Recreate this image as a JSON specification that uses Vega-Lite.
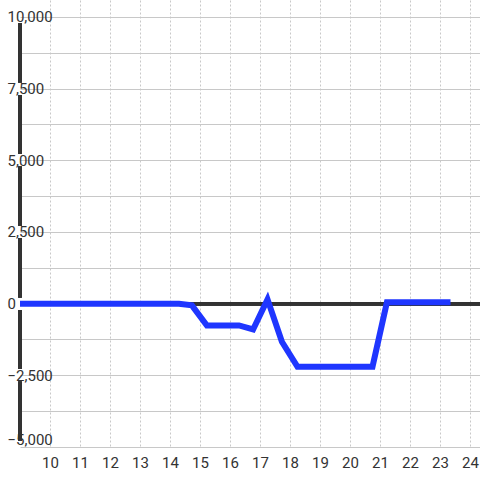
{
  "$schema": "https://vega.github.io/schema/vega-lite/v6.json",
  "width": 460,
  "height": 447,
  "autosize": "none",
  "padding": {"left": 20, "top": 0, "right": 0, "bottom": 33},
  "background": "white",
  "config": {"view": {"stroke": null}, "font": "Roboto", "axis": {"labelOverlap": false, "labelSeparation": 0}},
  "data": {"values": [
    {"hour": 9, "value": 0},
    {"hour": 14.3, "value": 0},
    {"hour": 14.73, "value": -60},
    {"hour": 15.23, "value": -760},
    {"hour": 16.3, "value": -760},
    {"hour": 16.77, "value": -900},
    {"hour": 17.25, "value": 150},
    {"hour": 17.73, "value": -1330},
    {"hour": 18.25, "value": -2200},
    {"hour": 20.75, "value": -2200},
    {"hour": 21.23, "value": 50},
    {"hour": 23.35, "value": 50}
  ]},
  "encoding": {
    "x": {"field": "hour", "type": "quantitative",
      "scale": {"domain": [9, 24.333], "nice": false, "zero": false},
      "axis": {"title": null, "values": [10,11,12,13,14,15,16,17,18,19,20,21,22,23,24],
        "grid": true, "gridDash": [2, 2], "gridColor": "#c8c8c8", "gridWidth": 1,
        "domain": false, "ticks": false, "labelPadding": 8, "labelFontSize": 15,
        "labelOverlap": false, "labelBound": false, "labelFlush": false,
        "labelColor": "#333333", "labelFont": "Roboto", "labelBaseline": "top", "zindex": 0}},
    "y": {"field": "value", "type": "quantitative",
      "scale": {"domain": [-5000, 10593], "nice": false, "zero": false},
      "axis": {"title": null,
        "values": [-5000,-3750,-2500,-1250,0,1250,2500,3750,5000,6250,7500,8750,10000],
        "labelExpr": "datum.value % 2500 === 0 ? datum.label : ''",
        "grid": true, "gridColor": "#c8c8c8", "gridWidth": 1,
        "domain": false, "ticks": false, "labelAlign": "left", "labelPadding": 13,
        "labelOverlap": false, "labelBound": false, "labelFlush": false,
        "labelBaseline": {"signal": "datum.value === -5000 ? 'bottom' : 'middle'"},
        "labelFontSize": 15, "labelColor": "#333333",
        "labelFont": "Roboto", "zindex": 0,
        "encode": {"labels": {"update": {
          "dx": {"signal": "datum.value < 0 ? -4 : 0"}}}}}}
  },
  "layer": [
    {
      "mark": {"type": "rule", "color": "#333333", "strokeWidth": 3},
      "encoding": {"y": {"datum": 0}, "x": {"datum": 9}, "x2": {"datum": 24.333}}
    },
    {
      "mark": {"type": "rule", "color": "#333333", "strokeWidth": 3.5, "strokeDash": [58.67, 13], "strokeDashOffset": 65.17},
      "encoding": {"x": {"datum": 9}, "y": {"datum": -5000}, "y2": {"datum": 10000}}
    },
    {
      "mark": {"type": "line", "color": "#1f36ff", "strokeWidth": 6, "strokeJoin": "miter", "strokeCap": "butt"}
    }
  ]
}
